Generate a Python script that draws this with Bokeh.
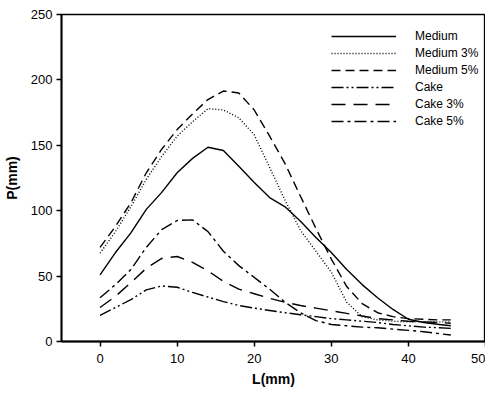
from bokeh.plotting import figure
from bokeh.models import Range1d, Legend, LegendItem, FixedTicker
from bokeh.embed import file_html
from bokeh.resources import INLINE

L = [0, 2, 4, 6, 8, 10, 12, 14, 16, 18, 20, 22, 24, 26, 28, 30, 32, 34, 36, 38, 40, 42, 44, 45.5]

medium =    [51, 68, 83, 101, 114, 129, 140, 148.5, 146, 134, 121.5, 110, 103, 92, 79.5, 68, 55, 43.5, 33.5, 24.5, 17, 14.5, 13, 12]
medium_3 =  [67.5, 84, 103, 124, 141.5, 157, 168, 178, 177, 171, 158, 133, 108, 85, 69, 53, 30, 19, 16.5, 15.5, 15, 15, 15, 15]
medium_5 =  [72, 88, 106, 129, 147, 162, 174, 185, 191.5, 190, 177, 157, 136, 111, 86.5, 63, 42, 29, 22, 19, 17.5, 17, 16.5, 16.5]
cake =      [20, 26, 32, 39.5, 42.5, 41.5, 37.5, 34, 30.5, 27.5, 25.5, 23.7, 22, 20.5, 19, 17.5, 16.5, 15.5, 14.5, 13, 12, 11, 10.5, 10]
cake_3 =    [26, 34.5, 45, 56, 63.5, 65, 60.5, 54, 46, 40, 36.5, 33, 30, 27.5, 25.5, 23.5, 21.5, 19.5, 17.5, 16.5, 15.5, 15, 14.5, 14]
cake_5 =    [33.5, 43.5, 55, 72, 85.5, 92.5, 93, 84, 69, 58, 49, 40, 30, 22, 16, 13, 12, 11, 10.5, 9.5, 8.5, 7.5, 6, 5]

names = ["Medium", "Medium 3%", "Medium 5%", "Cake", "Cake 3%", "Cake 5%"]
series = [medium, medium_3, medium_5, cake, cake_3, cake_5]
dashes = ["solid", "1 2", "9 5", "12 3 2 3 2 3", "14 8", "12 4 3 4"]

x_ticks = [0, 10, 20, 30, 40, 50]
y_ticks = [0, 50, 100, 150, 200, 250]

p = figure(width=485, height=389, output_backend="svg", toolbar_location=None,
           x_range=Range1d(-5, 50), y_range=Range1d(0, 250),
           min_border_left=53, min_border_right=0, min_border_top=14, min_border_bottom=47)
p.background_fill_color = "white"
p.border_fill_color = "white"
p.outline_line_color = "black"
p.outline_line_width = 1.3
p.xgrid.visible = False
p.ygrid.visible = False

items = []
for name, ys, d in zip(names, series, dashes):
    r = p.line(L, ys, line_color="black", line_width=1.4, line_dash=d, line_join="round")
    items.append(LegendItem(label=name, renderers=[r]))

for ax in (p.xaxis[0], p.yaxis[0]):
    ax.axis_line_width = 2
    ax.major_tick_line_width = 1.5
    ax.major_tick_out = 5
    ax.major_tick_in = 0
    ax.minor_tick_out = 0
    ax.minor_tick_in = 0
    ax.major_label_text_font = "Liberation Sans"
    ax.major_label_text_font_size = "13px"
    ax.major_label_text_color = "black"
    ax.axis_label_text_font = "Liberation Sans"
    ax.axis_label_text_font_style = "bold"
    ax.axis_label_text_color = "black"

p.xaxis.ticker = FixedTicker(ticks=x_ticks)
p.yaxis.ticker = FixedTicker(ticks=y_ticks)
p.xaxis.axis_label = "L(mm)"
p.yaxis.axis_label = "P(mm)"
p.xaxis.axis_label_text_font_size = "14px"
p.yaxis.axis_label_text_font_size = "14px"
p.xaxis.major_label_standoff = 7
p.yaxis.major_label_standoff = 4
p.xaxis.axis_label_standoff = 5
p.yaxis.axis_label_standoff = 8

legend = Legend(items=items, location=(270, 213), orientation="vertical")
legend.border_line_color = None
legend.background_fill_alpha = 0
legend.padding = 5
legend.margin = 0
legend.spacing = 3
legend.glyph_width = 65
legend.glyph_height = 14
legend.label_height = 14
legend.label_standoff = 19
legend.label_text_font = "Liberation Sans"
legend.label_text_font_size = "12px"
legend.label_text_color = "black"
p.add_layout(legend, "center")

open("out.html", "w").write(file_html(p, INLINE))
